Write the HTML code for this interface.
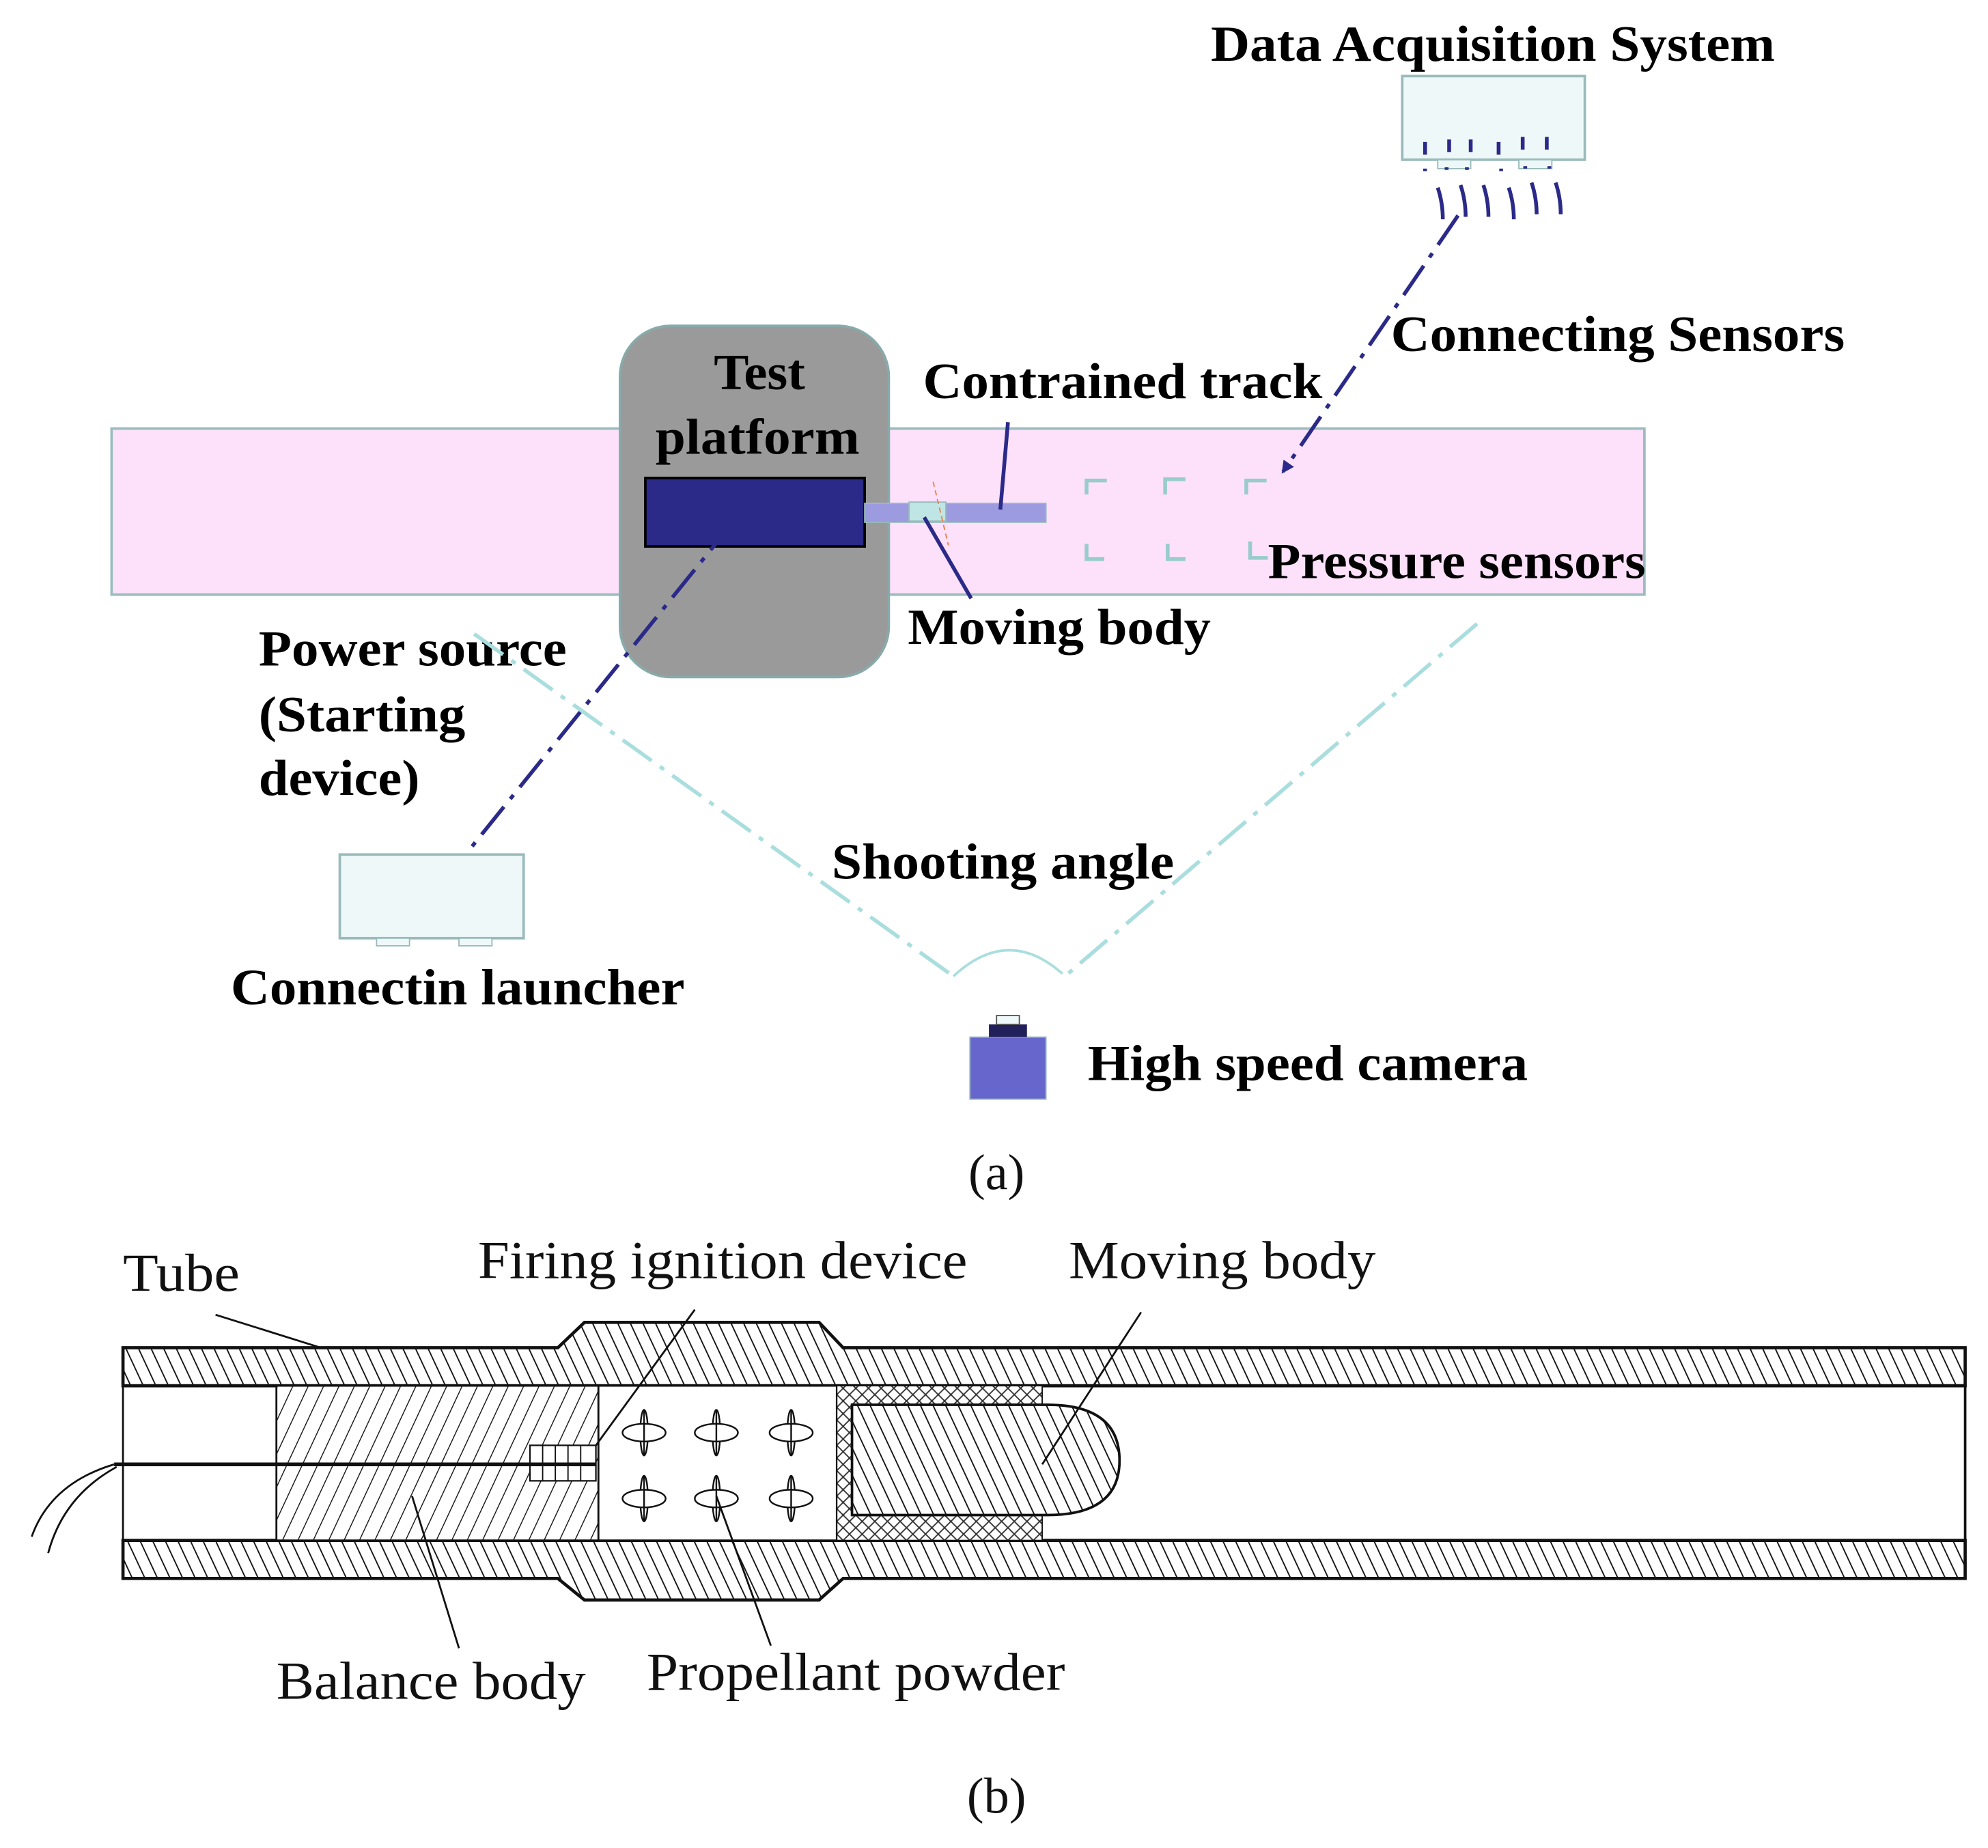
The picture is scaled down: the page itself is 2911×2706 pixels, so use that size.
<!DOCTYPE html>
<html><head><meta charset="utf-8"><style>
html,body{margin:0;padding:0;background:#fff;}
svg{display:block;}
.b{font-family:"Liberation Serif",serif;font-weight:bold;font-size:40px;fill:#000;}
.n{font-family:"Liberation Serif",serif;font-size:42px;fill:#111;}
</style></head><body>
<svg width="2911" height="2706" viewBox="0 0 1568 1457.6" xmlns="http://www.w3.org/2000/svg">
<defs>
<pattern id="hb" patternUnits="userSpaceOnUse" width="9" height="9" patternTransform="rotate(-25)">
<rect width="9" height="9" fill="#fff"/><line x1="0" y1="0" x2="0" y2="9" stroke="#111" stroke-width="2"/></pattern>
<pattern id="hf" patternUnits="userSpaceOnUse" width="11" height="11" patternTransform="rotate(25)">
<rect width="11" height="11" fill="#fff"/><line x1="0" y1="0" x2="0" y2="11" stroke="#111" stroke-width="1.5"/></pattern>
<pattern id="hx" patternUnits="userSpaceOnUse" width="10" height="10">
<rect width="10" height="10" fill="#fff"/><path d="M0 0L10 10M10 0L0 10" stroke="#333" stroke-width="1"/></pattern>
<marker id="ar" markerWidth="10" markerHeight="10" refX="8" refY="5" orient="auto" markerUnits="userSpaceOnUse">
<path d="M0 0L10 5L0 10z" fill="#2b2a88"/></marker>
<g id="pp" stroke="#111" stroke-width="1.3" fill="#fff"><ellipse cx="0" cy="0" rx="3" ry="18"/><ellipse cx="0" cy="0" rx="17" ry="7"/><line x1="0" y1="-18" x2="0" y2="18"/></g>
</defs>

<!-- (a) -->
<rect x="88" y="338" width="1209" height="131" fill="#fde1fb" stroke="#9bbcbc" stroke-width="2"/>
<rect x="489" y="257" width="212" height="277" rx="40" fill="#9a9a9a" stroke="#8aa" stroke-width="2"/>
<text class="b" x="563" y="307" textLength="72" lengthAdjust="spacingAndGlyphs">Test</text>
<text class="b" x="517" y="358" textLength="161" lengthAdjust="spacingAndGlyphs">platform</text>
<rect x="509" y="377" width="173" height="54" fill="#2b2a88" stroke="#000" stroke-width="2"/>
<rect x="682" y="397" width="143" height="15" fill="#9d9be0" stroke="#9bb" stroke-width="1"/>
<rect x="717" y="396" width="29" height="15" fill="#bfe6e4" stroke="#9bb" stroke-width="1"/>
<line x1="736" y1="380" x2="748" y2="430" stroke="#f08040" stroke-width="1" stroke-dasharray="4 3"/>
<line x1="795" y1="333" x2="789" y2="402" stroke="#2b2a88" stroke-width="3"/>
<line x1="729" y1="408" x2="766" y2="472" stroke="#2b2a88" stroke-width="3"/>
<text class="b" x="728" y="314" textLength="315" lengthAdjust="spacingAndGlyphs">Contrained track</text>
<text class="b" x="716" y="508" textLength="239" lengthAdjust="spacingAndGlyphs">Moving body</text>
<g stroke="#9cc" stroke-width="3" fill="none">
<path d="M873 379H857V390"/><path d="M935 378H919V390"/><path d="M999 379H983V390"/>
<path d="M857 429V441H871"/><path d="M921 429V441H935"/><path d="M986 427V440H1000"/>
</g>
<text class="b" x="1000" y="456" textLength="298" lengthAdjust="spacingAndGlyphs">Pressure sensors</text>

<text class="b" x="955" y="48" textLength="445" lengthAdjust="spacingAndGlyphs">Data Acquisition System</text>
<rect x="1106" y="60" width="144" height="66" fill="#eef8f8" stroke="#9bb" stroke-width="2"/>
<rect x="1134" y="126" width="26" height="7" fill="#eef8f8" stroke="#9bb"/>
<rect x="1198" y="126" width="26" height="7" fill="#eef8f8" stroke="#9bb"/>
<g stroke="#2b2a88" stroke-width="3" fill="none">
<path d="M1124 112v10M1143 110v10M1160 110v10M1182 112v10M1201 108v10M1220 108v10"/>
<path d="M1124 133v2M1141 132v2M1157 132v2M1184 133v2M1203 131v2M1222 131v2"/>
<path d="M1134 148q4 12 4 25M1152 146q4 12 4 25M1170 146q4 12 4 25M1190 148q4 12 4 25M1208 144q4 12 4 25M1227 144q4 12 4 25"/>
</g>
<line x1="1150" y1="170" x2="1012" y2="372" stroke="#2b2a88" stroke-width="3" stroke-dasharray="28 8 4 8" marker-end="url(#ar)"/>
<text class="b" x="1097" y="277" textLength="358" lengthAdjust="spacingAndGlyphs">Connecting Sensors</text>

<text class="b" x="204" y="525" textLength="243" lengthAdjust="spacingAndGlyphs">Power source</text>
<text class="b" x="204" y="577" textLength="163" lengthAdjust="spacingAndGlyphs">(Starting</text>
<text class="b" x="204" y="627" textLength="127" lengthAdjust="spacingAndGlyphs">device)</text>
<line x1="578" y1="412" x2="372" y2="668" stroke="#2b2a88" stroke-width="3" stroke-dasharray="28 8 4 8"/>
<rect x="268" y="674" width="145" height="66" fill="#eef8f8" stroke="#9bb" stroke-width="2"/>
<rect x="297" y="740" width="26" height="6" fill="#eef8f8" stroke="#9bb"/>
<rect x="362" y="740" width="26" height="6" fill="#eef8f8" stroke="#9bb"/>
<text class="b" x="182" y="792" textLength="358" lengthAdjust="spacingAndGlyphs">Connectin launcher</text>

<g stroke="#aadede" stroke-width="3" fill="none" stroke-dasharray="28 8 4 8">
<line x1="374" y1="500" x2="752" y2="770"/><line x1="1165" y1="492" x2="840" y2="770"/>
</g>
<path d="M752 770Q795 730 838 768" stroke="#aadede" stroke-width="2" fill="none"/>
<text class="b" x="656" y="693" textLength="270" lengthAdjust="spacingAndGlyphs">Shooting angle</text>
<rect x="765" y="818" width="60" height="49" fill="#6666cc" stroke="#9bb"/>
<rect x="780" y="808" width="30" height="10" fill="#22205a"/>
<rect x="786" y="801" width="18" height="7" fill="#eef8f8" stroke="#555" stroke-width="1"/>
<text class="b" x="858" y="852" textLength="347" lengthAdjust="spacingAndGlyphs">High speed camera</text>
<text class="n" x="786" y="938" text-anchor="middle" style="font-size:40px">(a)</text>

<!-- (b) -->
<path d="M97 1063H440L461 1043H646L665 1063H1550V1093H97Z" fill="url(#hb)" stroke="#111" stroke-width="2.5"/>
<path d="M97 1215H1550V1245H665L646 1262H461L440 1245H97Z" fill="url(#hb)" stroke="#111" stroke-width="2.5"/>
<line x1="97" y1="1093" x2="97" y2="1215" stroke="#111" stroke-width="1.5"/>
<line x1="1550" y1="1093" x2="1550" y2="1215" stroke="#111" stroke-width="2"/>
<rect x="218" y="1093" width="254" height="122" fill="url(#hf)" stroke="#111" stroke-width="1.5"/>
<rect x="472" y="1093" width="188" height="122" fill="#fff" stroke="#111" stroke-width="1.5"/>
<rect x="660" y="1093" width="162" height="122" fill="url(#hx)" stroke="#111" stroke-width="1"/>
<path d="M672 1108H826Q883 1108 883 1152Q883 1195 826 1195H672Z" fill="url(#hb)" stroke="#111" stroke-width="2"/>
<rect x="418" y="1140" width="52" height="28" fill="#fff" stroke="#111" stroke-width="1.2"/>
<path d="M428 1140v28M438 1140v28M448 1140v28M458 1140v28M418 1154h52" stroke="#111" stroke-width="1"/>
<line x1="90" y1="1155" x2="470" y2="1155" stroke="#111" stroke-width="3"/>
<path d="M90 1155Q40 1170 25 1212M92 1157Q50 1180 38 1225" stroke="#111" stroke-width="1.5" fill="none"/>
<use href="#pp" transform="translate(508,1130)"/><use href="#pp" transform="translate(565,1130)"/><use href="#pp" transform="translate(624,1130)"/>
<use href="#pp" transform="translate(508,1182)"/><use href="#pp" transform="translate(565,1182)"/><use href="#pp" transform="translate(624,1182)"/>
<g stroke="#111" stroke-width="1.5">
<line x1="170" y1="1037" x2="253" y2="1063"/>
<line x1="548" y1="1033" x2="470" y2="1140"/>
<line x1="900" y1="1035" x2="822" y2="1155"/>
<line x1="362" y1="1300" x2="325" y2="1180"/>
<line x1="608" y1="1298" x2="565" y2="1180"/>
</g>
<text class="n" x="97" y="1018" textLength="92" lengthAdjust="spacingAndGlyphs">Tube</text>
<text class="n" x="377" y="1008" textLength="386" lengthAdjust="spacingAndGlyphs">Firing ignition device</text>
<text class="n" x="843" y="1008" textLength="242" lengthAdjust="spacingAndGlyphs">Moving body</text>
<text class="n" x="218" y="1340" textLength="244" lengthAdjust="spacingAndGlyphs">Balance body</text>
<text class="n" x="510" y="1333" textLength="330" lengthAdjust="spacingAndGlyphs">Propellant powder</text>
<text class="n" x="786" y="1430" text-anchor="middle" style="font-size:40px">(b)</text>
</svg>
</body></html>
